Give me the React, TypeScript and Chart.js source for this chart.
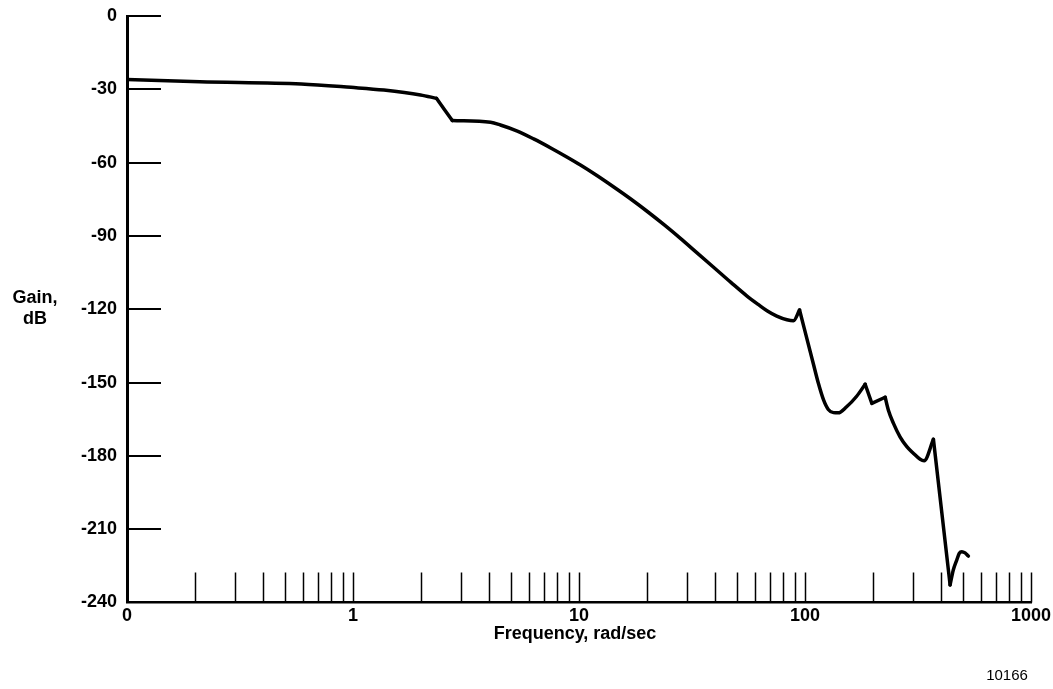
import React, { useEffect, useRef } from "react";
import { Chart, registerables } from "chart.js";

Chart.register(...registerables);

// Frequency (rad/sec) and gain (dB)
const frequency = [
  0.1, 0.21, 0.59, 0.98, 1.37, 1.99, 2.34, 2.75, 4.06, 4.49, 5.3, 6.3, 7.5,
  8.87, 10.15, 12.0, 14.25, 17.0, 20.0, 24.0, 28.1, 33.0, 39.4, 47.0, 55.4,
  62.0, 67.9, 75.0, 83.2, 88.9, 94.6, 109, 114.6, 120.8, 126.8, 133.7, 140.3,
  152.8, 169.3, 184.6, 197.6, 226.3, 233.7, 246.3, 263.3, 282.2, 301.3, 323.2,
  336.5, 370, 438.5, 453, 469.5, 482, 494, 511, 528.4,
];
const gain = [
  -26.0, -26.9, -27.8, -29.2, -30.3, -32.3, -33.7, -42.8, -43.5, -44.6, -47.0,
  -50.3, -54.0, -57.8, -61.0, -65.3, -70.0, -75.0, -79.9, -85.7, -91.0, -96.6,
  -102.8, -109.0, -114.6, -118.0, -120.6, -122.8, -124.3, -124.7, -120.3,
  -142.5, -150.3, -157.1, -161.0, -162.3, -162.4, -159.9, -155.6, -150.7,
  -158.5, -156.0, -161.2, -166.7, -172.2, -176.2, -178.9, -181.4, -182.0,
  -173.2, -232.8, -226.7, -222.6, -219.8, -219.2, -219.7, -221.0,
];
// Frequencies where the curve has a sharp corner (the curve is smooth between them)
const cuspFrequencies = [2.34, 2.75, 94.6, 184.6, 197.6, 226.3, 370, 438.5];

// Axis ticks
const xTickValues = [0.1, 1, 10, 100, 1000];
const xTickLabels = ["0", "1", "10", "100", "1000"];
const xDecades = [0.1, 1, 10, 100];
const xMantissas = [2, 3, 4, 5, 6, 7, 8, 9, 10];
const yTickValues = [0, -30, -60, -90, -120, -150, -180, -210, -240];
const yTickLabels = ["0", "-30", "-60", "-90", "-120", "-150", "-180", "-210", "-240"];

const yTitleLines = ["Gain,", "dB"];
const xTitle = "Frequency, rad/sec";
const figureId = "10166";

const FONT = "'Liberation Sans', Arial, Helvetica, sans-serif";

function buildSegments() {
  const breaks = [0, ...cuspFrequencies.map((c) => frequency.indexOf(c)), frequency.length - 1];
  const segs: { x: number; y: number }[][] = [];
  for (let k = 0; k < breaks.length - 1; k++) {
    const pts: { x: number; y: number }[] = [];
    for (let i = breaks[k]; i <= breaks[k + 1]; i++) pts.push({ x: frequency[i], y: gain[i] });
    segs.push(pts);
  }
  return segs;
}

export default function App() {
  const ref = useRef<HTMLCanvasElement | null>(null);

  useEffect(() => {
    if (!ref.current) return;

    const decorations = {
      id: "decorations",
      afterDraw(chart: any) {
        const { ctx, chartArea } = chart;
        const x = chart.scales.x;
        const y = chart.scales.y;
        ctx.save();
        ctx.strokeStyle = "#000";
        // inner y tick marks
        ctx.lineWidth = 2;
        yTickValues.forEach((v) => {
          if (v === -240) return;
          const py = Math.round(y.getPixelForValue(v));
          ctx.beginPath();
          ctx.moveTo(chartArea.left, py);
          ctx.lineTo(chartArea.left + 34, py);
          ctx.stroke();
        });
        // x tick marks pointing upward
        ctx.lineWidth = 1.5;
        xDecades.forEach((d) => {
          xMantissas.forEach((m) => {
            const v = d * m;
            const px = Math.round(x.getPixelForValue(v)) + 0.5;
            ctx.beginPath();
            ctx.moveTo(px, chartArea.bottom);
            ctx.lineTo(px, chartArea.bottom - 30);
            ctx.stroke();
          });
        });
        // titles
        ctx.fillStyle = "#000";
        ctx.textAlign = "center";
        ctx.textBaseline = "middle";
        ctx.font = `bold 18px ${FONT}`;
        ctx.fillText(yTitleLines[0], 35, 298);
        ctx.fillText(yTitleLines[1], 35, 319);
        ctx.fillText(xTitle, 575, 634);
        ctx.font = `15px ${FONT}`;
        ctx.fillText(figureId, 1007, 676);
        ctx.restore();
      },
    };

    const datasets = buildSegments().map((pts) => ({
      data: pts,
      borderColor: "#000",
      borderWidth: 3.5,
      pointRadius: 0,
      fill: false,
      cubicInterpolationMode: "monotone" as const,
      borderJoinStyle: "round" as const,
      borderCapStyle: "round" as const,
    }));

    const chart = new Chart(ref.current, {
      type: "line",
      data: { datasets },
      options: {
        animation: false,
        responsive: false,
        devicePixelRatio: 1,
        layout: { padding: { left: 0, right: 22, top: 16, bottom: 0 } },
        plugins: {
          legend: { display: false },
          tooltip: { enabled: false },
          title: { display: false },
        },
        scales: {
          x: {
            type: "logarithmic",
            min: 0.1,
            max: 1000,
            grid: { display: false, drawTicks: false },
            border: { display: true, color: "#000", width: 2.5 },
            afterBuildTicks(scale: any) {
              scale.ticks = xTickValues.map((v) => ({ value: v }));
            },
            afterFit(scale: any) {
              scale.height = 86.5;
              scale.paddingLeft = 0;
              scale.paddingRight = 0;
            },
            ticks: {
              color: "#000",
              padding: 3,
              maxRotation: 0,
              autoSkip: false,
              font: { family: FONT, size: 18, weight: "bold" },
              callback: (_v: any, i: number) => xTickLabels[i],
            },
          },
          y: {
            type: "linear",
            min: -240,
            max: 0,
            grid: { display: false, drawTicks: false },
            border: { display: true, color: "#000", width: 3 },
            afterBuildTicks(scale: any) {
              scale.ticks = yTickValues.map((v) => ({ value: v }));
            },
            afterFit(scale: any) {
              scale.width = 127;
              scale.paddingTop = 0;
              scale.paddingBottom = 0;
            },
            ticks: {
              color: "#000",
              padding: 10,
              autoSkip: false,
              font: { family: FONT, size: 18, weight: "bold" },
              callback: (_v: any, i: number) => yTickLabels[i],
            },
          },
        },
      },
      plugins: [decorations],
    });

    return () => chart.destroy();
  }, []);

  return (
    <div style={{ position: "absolute", left: 0, top: 0, width: 1053, height: 689, background: "#fff" }}>
      <canvas ref={ref} width={1053} height={689} />
    </div>
  );
}
